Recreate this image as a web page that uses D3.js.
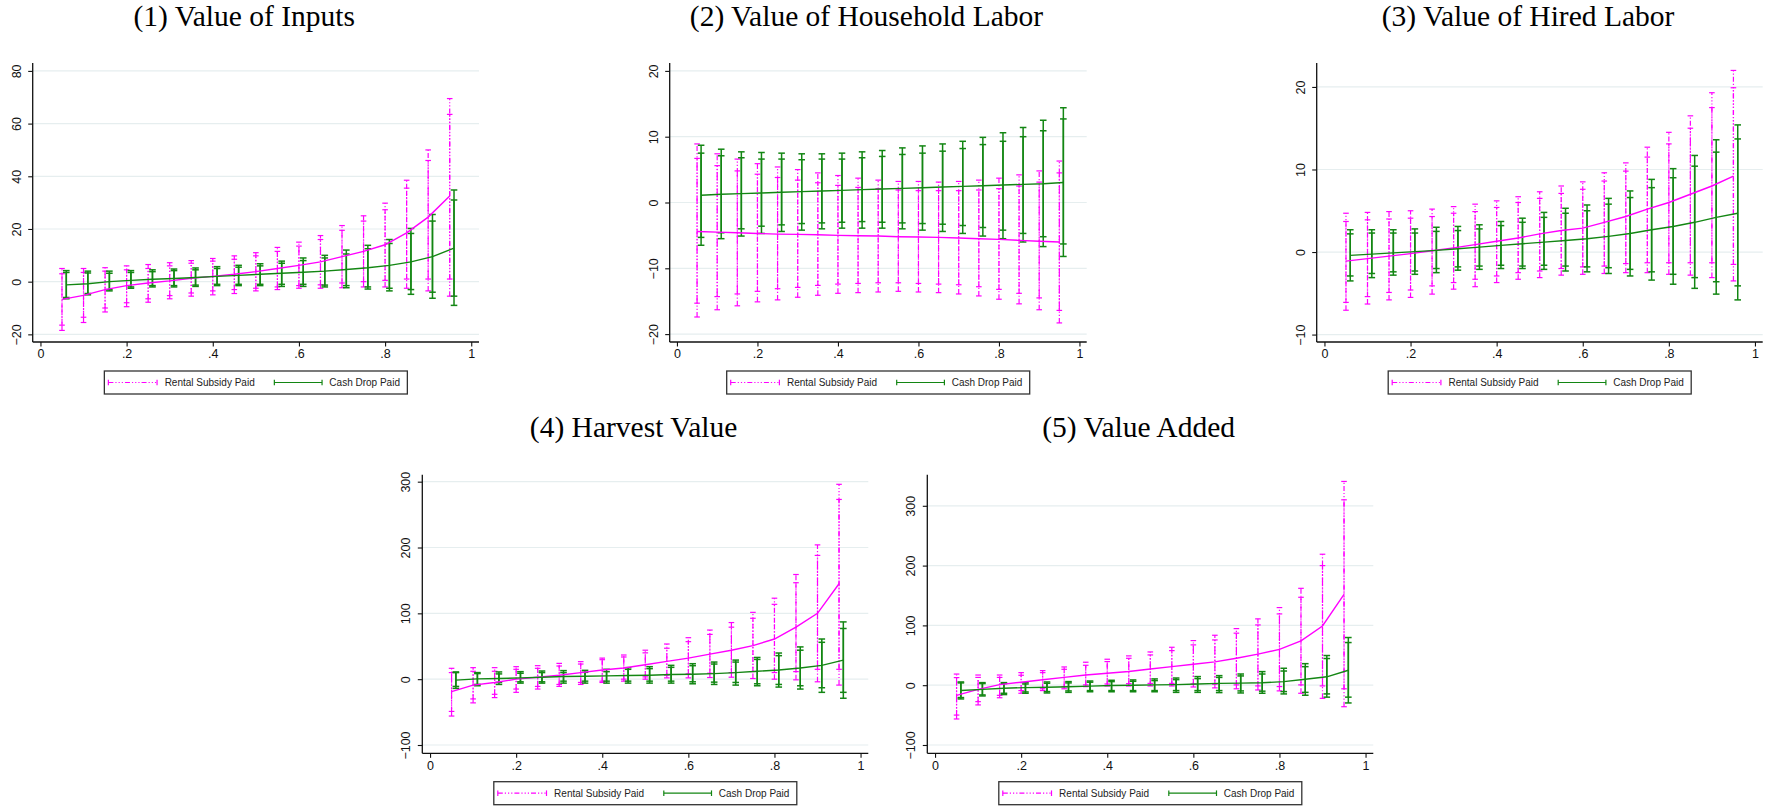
<!DOCTYPE html>
<html><head><meta charset="utf-8">
<script src="https://cdn.jsdelivr.net/npm/d3@7"></script>
<style>body{margin:0;background:#fff}</style>
</head><body>
<svg id="chart" width="1771" height="807"></svg>
<script>
// ---------------- data ----------------
const quantilesRental = [0.05,0.10,0.15,0.20,0.25,0.30,0.35,0.40,0.45,0.50,0.55,0.60,0.65,0.70,0.75,0.80,0.85,0.90,0.95];
const quantilesCash   = [0.06,0.11,0.16,0.21,0.26,0.31,0.36,0.41,0.46,0.51,0.56,0.61,0.66,0.71,0.76,0.81,0.86,0.91,0.96];
const seriesNames = ["Rental Subsidy Paid", "Cash Drop Paid"];
const panelTitles = ["(1) Value of Inputs", "(2) Value of Household Labor", "(3) Value of Hired Labor", "(4) Harvest Value", "(5) Value Added"];
const xTicks = [0, 0.2, 0.4, 0.6, 0.8, 1];
const xTickLabels = ["0", ".2", ".4", ".6", ".8", "1"];
const yTicksInputs = [-20, 0, 20, 40, 60, 80];
const yTicksHouseholdLabor = [-20, -10, 0, 10, 20];
const yTicksHiredLabor = [-10, 0, 10, 20];
const yTicksHarvest = [-100, 0, 100, 200, 300];
const yTicksValueAdded = [-100, 0, 100, 200, 300];

// (1) Value of Inputs
const inputsRentalEst  = [-6.7,-5.2,-3,-1.5,-0.5,0.3,1.3,2,2.8,3.8,5,6.2,7.5,9.5,11.5,14,18.5,24.5,32.5];
const inputsRentalLo95 = [-18.5,-15.5,-11.5,-9.5,-7.8,-6.5,-5.5,-5,-4.5,-3.5,-3,-2.5,-2.5,-2.3,-2,-2,-2.5,-3.5,-5.5];
const inputsRentalLo90 = [-16.5,-13.5,-10,-8,-6.5,-5.3,-4.3,-3.5,-3,-2.5,-2,-1.5,-1.2,-0.5,0,0.5,1,1,1];
const inputsRentalHi90 = [3,3.5,4,4.5,5,6,7,7.8,8.5,9.8,11.5,13.5,16,19.5,23,27.3,35.5,46,63.5];
const inputsRentalHi95 = [5,5,5.3,6,6.5,7.2,8,8.8,9.8,11,13,15,17.5,21.3,25,29.8,38.5,50,69.5];
const inputsCashEst  = [-1.2,-0.8,0,0.5,0.9,1.2,1.6,2,2.4,2.8,3.2,3.6,4,4.6,5.3,6.2,7.5,9.5,12.7];
const inputsCashLo95 = [-6.5,-5,-3.5,-2.5,-2,-2,-1.8,-1.5,-1.5,-1.5,-1.8,-1.8,-2,-2.3,-2.8,-3.5,-4.8,-6.3,-9];
const inputsCashLo90 = [-6,-4.5,-3,-2,-1.5,-1.5,-1.3,-1,-1,-1,-1,-1,-1.3,-1.5,-2,-2.5,-3,-4,-5.5];
const inputsCashHi90 = [3.5,3.3,3.2,3.5,3.8,4.2,4.5,5,5.5,6,7,8,9,10.5,12.5,14.5,18.3,23,31];
const inputsCashHi95 = [4.2,4,4,4.2,4.5,4.8,5.2,5.7,6.2,6.8,7.8,9,10,12,13.8,16,20.2,25.5,34.8];

// (2) Value of Household Labor
const hhLaborRentalEst  = [-4.4,-4.5,-4.6,-4.7,-4.8,-4.85,-4.9,-5.0,-5.05,-5.1,-5.2,-5.25,-5.3,-5.4,-5.5,-5.6,-5.75,-5.9,-6.0];
const hhLaborRentalLo95 = [-17.4,-16.3,-15.7,-15.1,-14.8,-14.4,-14.1,-13.8,-13.7,-13.6,-13.5,-13.6,-13.7,-13.9,-14.2,-14.7,-15.4,-16.3,-18.3];
const hhLaborRentalLo90 = [-15.3,-14.3,-13.9,-13.5,-13.1,-12.9,-12.6,-12.4,-12.3,-12.2,-12.2,-12.3,-12.4,-12.5,-12.8,-13.2,-13.8,-14.5,-16.4];
const hhLaborRentalHi90 = [6.7,5.6,4.8,4.3,3.8,3.4,3,2.6,2.3,2.1,1.9,1.8,1.8,1.8,1.9,2.1,2.5,3.1,4.5];
const hhLaborRentalHi95 = [8.9,7.4,6.6,5.9,5.4,5,4.5,4.1,3.7,3.4,3.2,3.2,3.1,3.2,3.4,3.7,4.2,4.8,6.3];
const hhLaborCashEst  = [1.1,1.25,1.35,1.45,1.55,1.65,1.75,1.85,1.95,2.05,2.15,2.25,2.35,2.45,2.55,2.65,2.75,2.85,3.05];
const hhLaborCashLo95 = [-6.5,-5.5,-5.1,-4.7,-4.4,-4.2,-4,-3.9,-3.9,-3.9,-4,-4.2,-4.4,-4.7,-5.1,-5.5,-6,-6.7,-8.2];
const hhLaborCashLo90 = [-5.3,-4.6,-4,-3.6,-3.4,-3.2,-3.1,-3,-2.9,-3,-3.1,-3.2,-3.3,-3.5,-3.8,-4.2,-4.7,-5.2,-6.3];
const hhLaborCashHi90 = [7.5,7.1,6.8,6.6,6.6,6.5,6.6,6.6,6.8,7,7.3,7.5,7.8,8.2,8.8,9.3,10,10.9,12.7];
const hhLaborCashHi95 = [8.7,8.1,7.7,7.6,7.5,7.4,7.4,7.5,7.7,7.9,8.3,8.6,8.9,9.3,9.9,10.6,11.4,12.5,14.4];

// (3) Value of Hired Labor
const hiredRentalEst  = [-1.1,-0.8,-0.5,-0.2,0.15,0.5,0.9,1.3,1.7,2.2,2.6,2.9,3.6,4.3,5.2,6,7,8,9.2];
const hiredRentalLo95 = [-7.05,-6.3,-5.8,-5.5,-5.1,-4.5,-4.2,-3.7,-3.3,-3.1,-2.8,-2.7,-2.6,-2.5,-2.5,-2.7,-2.8,-3.1,-3.5];
const hiredRentalLo90 = [-6.1,-5.4,-4.9,-4.6,-4.1,-3.7,-3.3,-2.9,-2.5,-2.3,-2,-1.8,-1.7,-1.4,-1.3,-1.3,-1.3,-1.3,-1.5];
const hiredRentalHi90 = [3.7,3.9,4,4.1,4.3,4.7,4.9,5.4,6,6.5,7.1,7.6,8.6,9.8,11.5,13.1,15,17.5,19.9];
const hiredRentalHi95 = [4.7,4.8,4.9,5,5.2,5.5,5.8,6.2,6.7,7.3,8,8.5,9.6,10.8,12.7,14.5,16.5,19.3,22];
const hiredCashEst  = [-0.4,-0.25,-0.1,0.05,0.2,0.4,0.6,0.8,1.0,1.2,1.4,1.6,1.9,2.25,2.7,3.1,3.6,4.2,4.7];
const hiredCashLo95 = [-3.5,-3.1,-2.8,-2.7,-2.5,-2.2,-2.1,-2,-2,-2.1,-2.3,-2.4,-2.6,-2.9,-3.4,-3.9,-4.4,-5.1,-5.8];
const hiredCashLo90 = [-2.9,-2.6,-2.4,-2.3,-2,-1.8,-1.7,-1.6,-1.7,-1.6,-1.7,-1.8,-1.9,-2.1,-2.4,-2.7,-3.1,-3.6,-4.1];
const hiredCashHi90 = [2.2,2.3,2.3,2.3,2.5,2.6,2.8,3.2,3.6,4.2,4.7,5,5.8,6.6,7.8,9,10.4,12.1,13.7];
const hiredCashHi95 = [2.7,2.7,2.7,2.8,3,3.1,3.3,3.7,4.1,4.8,5.3,5.7,6.5,7.4,8.8,10.1,11.7,13.6,15.4];

// (4) Harvest Value
const harvestRentalEst  = [-19,-9,-5,0,3,6,10,14,17,22,27,32,38,44,51,61,79,100,145];
const harvestRentalLo95 = [-56,-36,-28,-20,-15,-11,-8,-5,-3,0,2,2,2.5,3,1,0,-1,-4,-9];
const harvestRentalLo90 = [-49,-30,-23,-15,-11,-8,-5,-3,0,3.5,6,8,9,10,11.5,10,11.5,15,15];
const harvestRentalHi90 = [10,12,12,15,16.5,20,23,29.6,33.7,40,47,57,68,79,92.5,113.7,146.5,188,273];
const harvestRentalHi95 = [16.5,17.5,17.5,19,20.5,24,26.6,32,36.7,44,53.4,63,74.6,86,101.5,123,159,204,296];
const harvestCashEst  = [-1.5,0.5,1,2,3,4,4.5,5,5.5,6,7,7.5,8.5,10,12,14,17,21,29];
const harvestCashLo95 = [-14,-10,-8,-6,-6,-6,-6,-6,-6,-6,-6,-7,-8,-9,-10,-12,-15,-20,-29];
const harvestCashLo90 = [-11,-8,-5,-4,-4,-3,-3,-3,-3,-3,-3,-4,-4.5,-5,-7,-8,-10,-13,-20];
const harvestCashHi90 = [10,8.5,8,9,10,10,10.4,11.4,15,16,18,20.5,23,26,30,35.7,44,56,77];
const harvestCashHi95 = [11,10,11,11.4,12.4,13,13.4,15,17.5,19,21,23.5,26,29,33,39.7,49,61,87];

// (5) Value Added
const addedRentalEst  = [-17,-7,1,5,9,13,17,20,23,27,31,35,39,45,52,60,74,99,152];
const addedRentalLo95 = [-56.5,-33,-21,-13.5,-9,-6,-2.4,-1.3,-1.3,-1.3,-1.3,-3,-4.5,-6,-8,-9.5,-13.5,-22,-36];
const addedRentalLo90 = [-50,-27.5,-17,-9,-6,-2.5,0.5,2,2.6,3,3,2,1.6,0.5,-1.2,-2.3,0.5,-1.2,-6];
const addedRentalHi90 = [12.7,13,13,16.6,21,26.6,33.3,39.5,45,50.6,57.8,67.4,75.7,87,100.8,119.2,147,200,310];
const addedRentalHi95 = [18.6,17,17,21,24.4,30.5,38.4,43.4,49,55.6,63.4,74.6,83.5,94.6,110.9,129.8,162,219,340.7];
const addedCashEst  = [-9,-7,-5,-4,-3.5,-2.5,-1.5,-0.5,0,0.5,1,2,3,3.5,4,6,10,14,25];
const addedCashLo95 = [-23,-18,-15.7,-13.5,-13,-12,-11,-11,-11,-11,-12,-12,-12.4,-13,-13.5,-14.6,-16.8,-20,-29.7];
const addedCashLo90 = [-20.7,-16.3,-13.5,-11.3,-10.7,-9.6,-9,-9,-9,-9,-9,-9,-9,-9.6,-10,-10.7,-12,-14.6,-20];
const addedCashHi90 = [3.8,2.7,2.7,2,3.2,3.8,5,6,6.5,7.7,9.3,11,13,15.5,18.7,23.7,31,44.6,71.3];
const addedCashHi95 = [5.4,4.3,4.3,4.3,5.4,6,7,8.2,8.8,10.5,12,14.4,16,18.7,22.7,28.3,36,49.6,79.7];

// ---------------- layout / style ----------------
const PINK = "#ff00ff", GREEN = "#138613", GRID = "#e6eeef";
const PINK_DASH = "5,2,1.2,2,1.2,2,1.2,2";
const panels = [
  {title: panelTitles[0], left: 32.7, right: 479, top: 63, bottom: 342, yDomain: [-22.9, 83], yTicks: yTicksInputs, titleY: 26, legendY: 371,
   rental: [inputsRentalEst, inputsRentalLo95, inputsRentalLo90, inputsRentalHi90, inputsRentalHi95],
   cash: [inputsCashEst, inputsCashLo95, inputsCashLo90, inputsCashHi90, inputsCashHi95]},
  {title: panelTitles[1], left: 669.7, right: 1086.7, top: 63, bottom: 342, yDomain: [-21.2, 21.2], yTicks: yTicksHouseholdLabor, titleY: 26, legendY: 371,
   rental: [hhLaborRentalEst, hhLaborRentalLo95, hhLaborRentalLo90, hhLaborRentalHi90, hhLaborRentalHi95],
   cash: [hhLaborCashEst, hhLaborCashLo95, hhLaborCashLo90, hhLaborCashHi90, hhLaborCashHi95]},
  {title: panelTitles[2], left: 1316.7, right: 1762.7, top: 63, bottom: 342, yDomain: [-10.9, 22.9], yTicks: yTicksHiredLabor, titleY: 26, legendY: 371,
   rental: [hiredRentalEst, hiredRentalLo95, hiredRentalLo90, hiredRentalHi90, hiredRentalHi95],
   cash: [hiredCashEst, hiredCashLo95, hiredCashLo90, hiredCashHi90, hiredCashHi95]},
  {title: panelTitles[3], left: 422.3, right: 868.3, top: 474.7, bottom: 753.3, yDomain: [-112.6, 310.6], yTicks: yTicksHarvest, titleY: 436.7, legendY: 781.7,
   rental: [harvestRentalEst, harvestRentalLo95, harvestRentalLo90, harvestRentalHi90, harvestRentalHi95],
   cash: [harvestCashEst, harvestCashLo95, harvestCashLo90, harvestCashHi90, harvestCashHi95]},
  {title: panelTitles[4], left: 927.3, right: 1373.3, top: 474.7, bottom: 753.3, yDomain: [-113.9, 352], yTicks: yTicksValueAdded, titleY: 436.7, legendY: 781.7,
   rental: [addedRentalEst, addedRentalLo95, addedRentalLo90, addedRentalHi90, addedRentalHi95],
   cash: [addedCashEst, addedCashLo95, addedCashLo90, addedCashHi90, addedCashHi95]}
];

const svg = d3.select("#chart");
svg.append("rect").attr("width", 1771).attr("height", 807).attr("fill", "#fff");

function rcap(g, xs, lo, hi, x, y, color, width, dash, capHalf) {
  const data = xs.map((q, i) => ({q, lo: lo[i], hi: hi[i]}));
  const grp = g.append("g");
  grp.selectAll("line.bar").data(data).join("line").attr("class", "bar")
    .attr("x1", d => x(d.q)).attr("x2", d => x(d.q))
    .attr("y1", d => y(d.lo)).attr("y2", d => y(d.hi))
    .attr("stroke", color).attr("stroke-width", width)
    .attr("stroke-dasharray", dash || null);
  ["lo", "hi"].forEach(k => {
    grp.selectAll("line.cap" + k).data(data).join("line").attr("class", "cap" + k)
      .attr("x1", d => x(d.q) - capHalf).attr("x2", d => x(d.q) + capHalf)
      .attr("y1", d => y(d[k])).attr("y2", d => y(d[k]))
      .attr("stroke", color).attr("stroke-width", width);
  });
}

panels.forEach(p => {
  const g = svg.append("g");
  const x = d3.scaleLinear().domain([-0.018, 1.018]).range([p.left, p.right]);
  const y = d3.scaleLinear().domain(p.yDomain).range([p.bottom, p.top]);

  // gridlines
  g.append("g").selectAll("line").data(p.yTicks).join("line")
    .attr("x1", p.left).attr("x2", p.right)
    .attr("y1", d => y(d)).attr("y2", d => y(d))
    .attr("stroke", GRID).attr("stroke-width", 1.2);

  // axes
  const yAxis = g.append("g").attr("transform", `translate(${p.left},0)`)
    .call(d3.axisLeft(y).tickValues(p.yTicks).tickSize(4.5).tickPadding(9).tickFormat(d3.format("d")).tickSizeOuter(0));
  yAxis.select(".domain").attr("d", `M0,${p.top}V${p.bottom}`);
  yAxis.selectAll("text")
    .attr("transform", "rotate(-90)")
    .attr("x", 0).attr("y", -16.5).attr("dy", "0.35em")
    .style("text-anchor", "middle");
  const xAxis = g.append("g").attr("transform", `translate(0,${p.bottom})`)
    .call(d3.axisBottom(x).tickValues(xTicks).tickSize(4.5).tickPadding(3).tickFormat((d, i) => xTickLabels[i]).tickSizeOuter(0));
  xAxis.select(".domain").attr("d", `M${p.left},0H${p.right}`);
  [yAxis, xAxis].forEach(a => {
    a.select(".domain").attr("stroke", "#111").attr("stroke-width", 1.3);
    a.selectAll(".tick line").attr("stroke", "#111").attr("stroke-width", 1.1);
    a.selectAll("text").attr("font-family", "Liberation Sans, Arial, sans-serif").attr("font-size", 12.5).attr("fill", "#111");
  });

  // error bars: rental (pink dash-dot) then cash (green solid)
  const [rEst, rLo95, rLo90, rHi90, rHi95] = p.rental;
  const [cEst, cLo95, cLo90, cHi90, cHi95] = p.cash;
  rcap(g, quantilesRental, rLo95, rHi95, x, y, PINK, 1.2, PINK_DASH, 2.8);
  rcap(g, quantilesRental, rLo90, rHi90, x, y, PINK, 1.2, PINK_DASH, 2.8);
  rcap(g, quantilesCash, cLo95, cHi95, x, y, GREEN, 1.5, null, 3.3);
  rcap(g, quantilesCash, cLo90, cHi90, x, y, GREEN, 1.5, null, 3.3);

  const line = d3.line().x(d => x(d[0])).y(d => y(d[1]));
  g.append("path").datum(quantilesRental.map((q, i) => [q, rEst[i]]))
    .attr("d", line).attr("fill", "none").attr("stroke", PINK).attr("stroke-width", 1.4);
  g.append("path").datum(quantilesCash.map((q, i) => [q, cEst[i]]))
    .attr("d", line).attr("fill", "none").attr("stroke", GREEN).attr("stroke-width", 1.4);

  // title
  const cx = (p.left + p.right) / 2;
  svg.append("text").attr("x", cx - 11.7).attr("y", p.titleY)
    .attr("text-anchor", "middle").attr("font-family", "Liberation Serif, Times New Roman, serif")
    .attr("font-size", 29.5).attr("fill", "#000").text(p.title);

  // legend
  const lx = cx - 151.5, ly = p.legendY;
  const lg = svg.append("g").attr("transform", `translate(${lx},${ly})`);
  lg.append("rect").attr("x", 0).attr("y", 0).attr("width", 303).attr("height", 23)
    .attr("fill", "#fff").attr("stroke", "#333").attr("stroke-width", 1.3);
  const items = [
    {name: seriesNames[0], color: PINK, dash: PINK_DASH, x0: 4, x1: 52.7, tx: 60.3},
    {name: seriesNames[1], color: GREEN, dash: null, x0: 170, x1: 217.7, tx: 225}
  ];
  items.forEach(it => {
    lg.append("line").attr("x1", it.x0).attr("x2", it.x1).attr("y1", 11.5).attr("y2", 11.5)
      .attr("stroke", it.color).attr("stroke-width", 1.2).attr("stroke-dasharray", it.dash);
    [it.x0, it.x1].forEach(xx => lg.append("line").attr("x1", xx).attr("x2", xx).attr("y1", 8.7).attr("y2", 14.3)
      .attr("stroke", it.color).attr("stroke-width", 1.2));
    lg.append("text").attr("x", it.tx).attr("y", 11.5).attr("dy", "0.35em")
      .attr("font-family", "Liberation Sans, Arial, sans-serif").attr("font-size", 10).attr("fill", "#222").text(it.name);
  });
});
</script>
</body></html>
